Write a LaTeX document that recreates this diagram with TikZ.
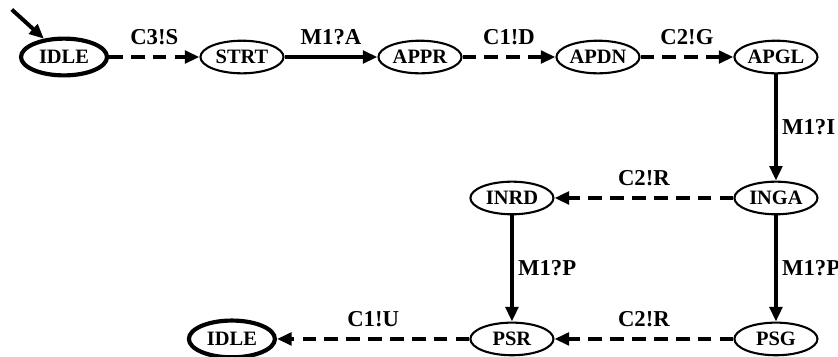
\documentclass[tikz,border=0pt]{standalone}
\usepackage{fontspec}
\setmainfont{Liberation Serif}
\usepackage{tikz}
\usetikzlibrary{calc,shapes.geometric,arrows.meta}

\begin{document}
\begin{tikzpicture}
        \tikzstyle{state}=[draw,ellipse,line width=1pt,minimum width=1.4cm,minimum height=0.55cm,inner sep=0pt,font=\fontsize{9.8}{11}\selectfont\bfseries]
        \tikzstyle{home}=[state,line width=2pt,minimum width=1.45cm,minimum height=0.62cm]
        \tikzstyle{lbl}=[inner sep=0pt,font=\fontsize{10.9}{12}\selectfont\bfseries]
        \tikzstyle{tr}=[line width=1.9pt,-{Triangle[length=7pt,width=6pt]}]
        \tikzstyle{snd}=[tr,dash pattern=on 6.5pt off 4pt]
        \useasboundingbox (-1.079,0.961) rectangle (13.046,-5.056);

            \node[home] (IDLE1) at (0,0) {IDLE};
            \node[state] (STRT) at ($(IDLE1)+(3, 0)$) {STRT};
            \node[state] (APPR) at ($(STRT)+(3, 0)$) {APPR};
            \node[state] (APDN) at ($(APPR)+(3, 0)$) {APDN};
            \node[state] (APGL) at ($(APDN)+(3, 0)$) {APGL};

            \node[state] (INGA) at ($(APGL)+(0, -2.376)$) {INGA};
            \node[state] (INRD) at ($(INGA)+(-4.45, 0)$) {INRD};

            \node[state] (PSG) at ($(INGA)+(0, -2.376)$) {PSG};
            \node[state] (PSR) at ($(INRD)+(0, -2.376)$) {PSR};
            \node[home] (IDLE2) at ($(PSR)+(-4.72, 0)$) {IDLE};

            \coordinate (init) at ($(IDLE1)+(-0.88, 0.8)$);

            \draw[tr] (init) -- (IDLE1);
            \draw[snd] (IDLE1) -- node[lbl,above=5pt] {C3!S} (STRT);
            \draw[tr] (STRT) -- node[lbl,above=5pt] {M1?A} (APPR);
            \draw[snd] (APPR) -- node[lbl,above=5pt] {C1!D} (APDN);
            \draw[snd] (APDN) -- node[lbl,above=5pt] {C2!G} (APGL);

            \draw[tr] (APGL) -- node[lbl,right=2pt] {M1?I} (INGA);
            \draw[snd] (INGA) -- node[lbl,above=5pt] {C2!R} (INRD);
            \draw[tr] (INGA) -- node[lbl,right=2pt] {M1?P} (PSG);
            \draw[tr] (INRD) -- node[lbl,right=2pt] {M1?P} (PSR);
            \draw[snd] (PSG) -- node[lbl,above=5pt] {C2!R} (PSR);
            \draw[snd] (PSR) -- node[lbl,above=5pt] {C1!U} (IDLE2);

        \end{tikzpicture}
\end{document}
